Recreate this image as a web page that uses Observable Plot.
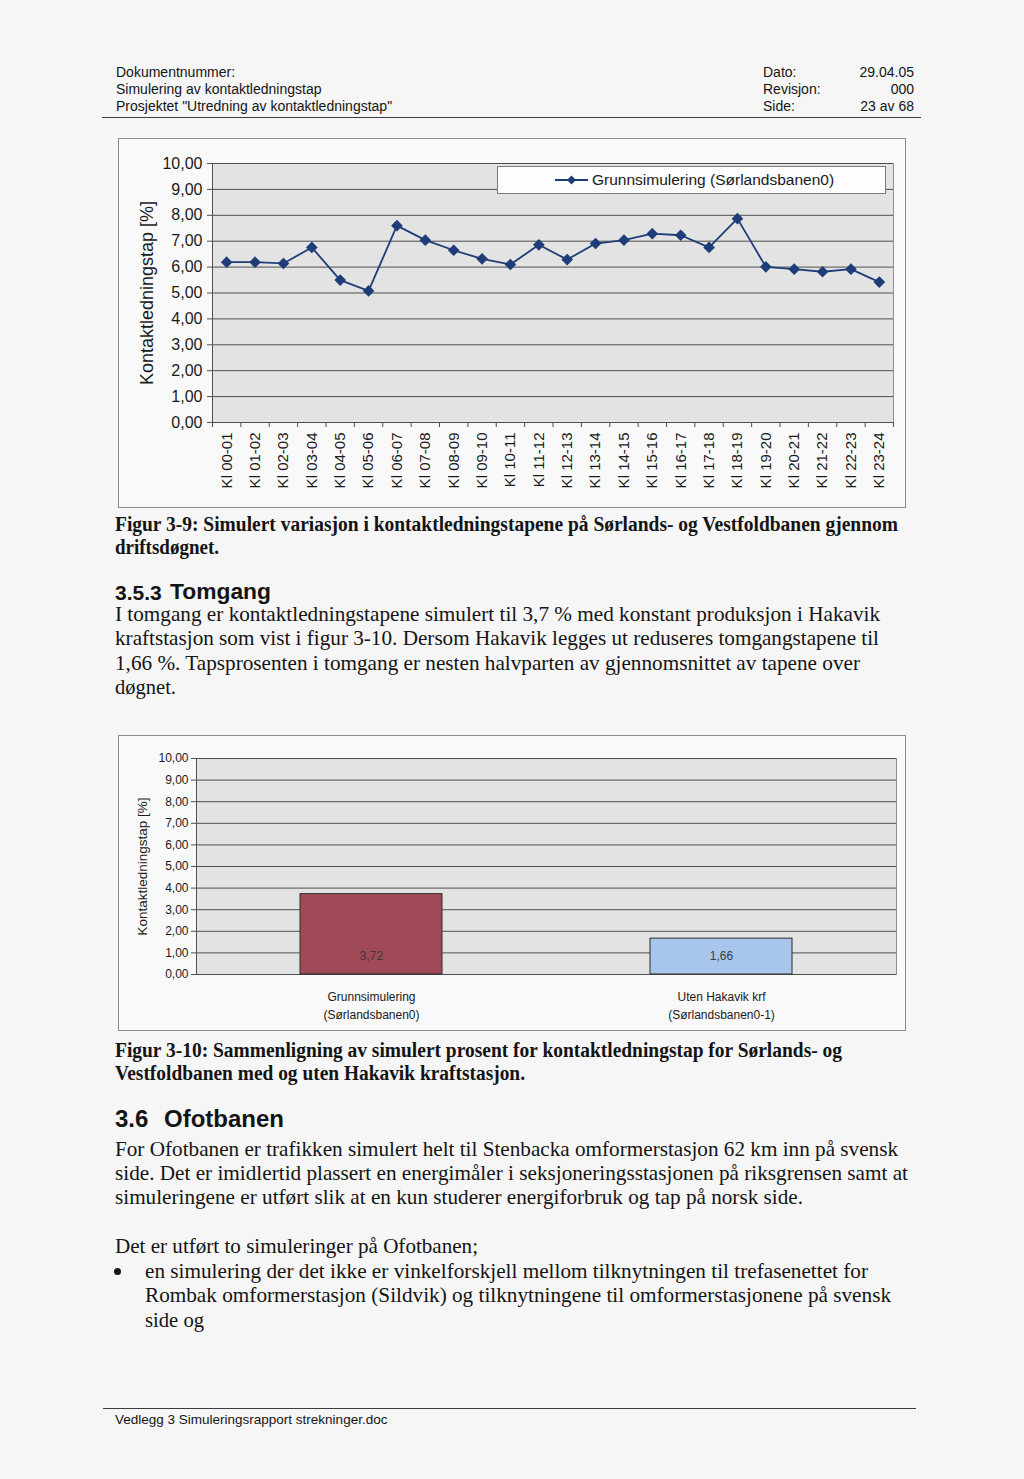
<!DOCTYPE html>
<html lang="no">
<head>
<meta charset="utf-8">
<title>Simulering av kontaktledningstap</title>
<script src="https://cdn.jsdelivr.net/npm/d3@7"></script>
<script src="https://cdn.jsdelivr.net/npm/@observablehq/plot@0.6"></script>
<style>
html, body { margin:0; padding:0; }
body { width:1024px; height:1479px; position:relative; overflow:hidden; background:#f6f6f6; }
.t { position:absolute; white-space:nowrap; line-height:1; transform-origin:0 0; color:#141414; }
.sans { font-family:"Liberation Sans", Arial, sans-serif; }
.serif { font-family:"Liberation Serif", "Times New Roman", serif; }
.rule { position:absolute; height:0; border-top:1.4px solid #3c3c3c; }
.box { position:absolute; outline:1px solid #8c8c8c; outline-offset:-1px; background:#f9f9f9; }
.box svg { position:absolute; left:0; top:0; overflow:visible; }
.legend { position:absolute; box-sizing:border-box; background:#fdfdfd; border:1px solid #7c7c7c;
  font-family:"Liberation Sans", Arial, sans-serif; color:#1a1a1a; }
.legend svg { position:absolute; }
.legend span { position:absolute; white-space:nowrap; line-height:1; }
.bullet { position:absolute; width:7px; height:7px; border-radius:50%; background:#151515; }
</style>
</head>
<body>
<script>
// ---------- chart data ----------
const hourLabels = ["Kl 00-01","Kl 01-02","Kl 02-03","Kl 03-04","Kl 04-05","Kl 05-06","Kl 06-07","Kl 07-08",
  "Kl 08-09","Kl 09-10","Kl 10-11","Kl 11-12","Kl 12-13","Kl 13-14","Kl 14-15","Kl 15-16",
  "Kl 16-17","Kl 17-18","Kl 18-19","Kl 19-20","Kl 20-21","Kl 21-22","Kl 22-23","Kl 23-24"];
const grunnsimulering = [6.19, 6.19, 6.14, 6.76, 5.50, 5.08, 7.60, 7.04, 6.65, 6.32, 6.10, 6.86,
  6.29, 6.91, 7.04, 7.29, 7.23, 6.76, 7.87, 6.01, 5.92, 5.82, 5.92, 5.42];
const seriesName = "Grunnsimulering (Sørlandsbanen0)";
const yTicks = [0, 1, 2, 3, 4, 5, 6, 7, 8, 9, 10];
const yTitle = "Kontaktledningstap [%]";
const scenarioLabels = ["Grunnsimulering\n(Sørlandsbanen0)", "Uten Hakavik krf\n(Sørlandsbanen0-1)"];
const tomgangTap = [3.72, 1.66];

// ---------- page text helper ----------
function addText(t, o) {
  const d = document.createElement("div");
  d.className = "t " + o.f;
  d.textContent = t;
  d.style.fontSize = o.s + "px";
  if (o.w) d.style.fontWeight = o.w;
  const off = o.f === "serif" ? 0.8375 : 0.8465;
  d.style.top = (o.b - off * o.s) + "px";
  d.style.left = "0px";
  document.body.appendChild(d);
  const nat = d.getBoundingClientRect().width;
  if (o.x != null && o.r != null) {
    d.style.left = o.x + "px";
    d.style.transform = `scaleX(${(o.r - o.x) / nat})`;
  } else if (o.x != null) {
    d.style.left = o.x + "px";
  } else {
    d.style.left = (o.r - nat) + "px";
  }
}
function addRule(x1, x2, y) {
  const d = document.createElement("div");
  d.className = "rule";
  d.style.left = x1 + "px"; d.style.width = (x2 - x1) + "px"; d.style.top = y + "px";
  document.body.appendChild(d);
}

// header
const H = {f: "sans", s: 14};
addText("Dokumentnummer:", {...H, x: 116, b: 77});
addText("Simulering av kontaktledningstap", {...H, x: 116, b: 94});
addText("Prosjektet \"Utredning av kontaktledningstap\"", {...H, x: 116, b: 111});
addText("Dato:", {...H, x: 763, b: 77});
addText("Revisjon:", {...H, x: 763, b: 94});
addText("Side:", {...H, x: 763, b: 111});
addText("29.04.05", {...H, r: 914, b: 77});
addText("000", {...H, r: 914, b: 94});
addText("23 av 68", {...H, r: 914, b: 111});
addRule(102, 921, 117);

// caption 1 + section 3.5.3
const C = {f: "serif", s: 20, w: "bold"};
addText("Figur 3-9: Simulert variasjon i kontaktledningstapene på Sørlands- og Vestfoldbanen gjennom", {...C, x: 115, r: 898, b: 531});
addText("driftsdøgnet.", {...C, x: 115, r: 219, b: 554});
addText("3.5.3", {f: "sans", s: 21, w: "bold", x: 115, b: 600});
addText("Tomgang", {f: "sans", s: 22, w: "bold", x: 170, r: 271, b: 600});
const P = {f: "serif", s: 21};
addText("I tomgang er kontaktledningstapene simulert til 3,7 % med konstant produksjon i Hakavik", {...P, x: 115, r: 880, b: 622});
addText("kraftstasjon som vist i figur 3-10. Dersom Hakavik legges ut reduseres tomgangstapene til", {...P, x: 115, r: 879, b: 646});
addText("1,66 %. Tapsprosenten i tomgang er nesten halvparten av gjennomsnittet av tapene over", {...P, x: 115, r: 860, b: 670.5});
addText("døgnet.", {...P, x: 115, r: 176, b: 695});

// caption 2 + section 3.6
addText("Figur 3-10: Sammenligning av simulert prosent for kontaktledningstap for Sørlands- og", {...C, x: 115, r: 842, b: 1057});
addText("Vestfoldbanen med og uten Hakavik kraftstasjon.", {...C, x: 115, r: 525, b: 1080});
addText("3.6", {f: "sans", s: 24, w: "bold", x: 115, b: 1127});
addText("Ofotbanen", {f: "sans", s: 24, w: "bold", x: 164, b: 1127});
addText("For Ofotbanen er trafikken simulert helt til Stenbacka omformerstasjon 62 km inn på svensk", {...P, x: 115, r: 898, b: 1157});
addText("side. Det er imidlertid plassert en energimåler i seksjoneringsstasjonen på riksgrensen samt at", {...P, x: 115, r: 908, b: 1181});
addText("simuleringene er utført slik at en kun studerer energiforbruk og tap på norsk side.", {...P, x: 115, r: 803, b: 1205});
addText("Det er utført to simuleringer på Ofotbanen;", {...P, x: 115, r: 478, b: 1254});
addText("en simulering der det ikke er vinkelforskjell mellom tilknytningen til trefasenettet for", {...P, x: 145, r: 868, b: 1279});
addText("Rombak omformerstasjon (Sildvik) og tilknytningene til omformerstasjonene på svensk", {...P, x: 145, r: 891, b: 1303});
addText("side og", {...P, x: 145, r: 204, b: 1328});
const bl = document.createElement("div");
bl.className = "bullet"; bl.style.left = "114px"; bl.style.top = "1268px";
document.body.appendChild(bl);

// footer
addRule(103, 916, 1408);
addText("Vedlegg 3 Simuleringsrapport strekninger.doc", {f: "sans", s: 13.5, x: 115, b: 1424});

// ---------- charts ----------
const fmt = v => v.toFixed(2).replace(".", ",");
const gridColor = "#4f4f4f";
const plotFill = "#e3e3e3";
const navy = "#1f3d78";
const font = "'Liberation Sans', Arial, sans-serif";

// Chart 1: line chart
const rows1 = hourLabels.map((h, i) => ({hour: h, idx: i, value: grunnsimulering[i]}));
const chart1 = Plot.plot({
  width: 788, height: 370,
  marginTop: 25, marginRight: 13, marginBottom: 86, marginLeft: 94,
  style: {background: "transparent", fontFamily: font, color: "#1a1a1a"},
  x: {type: "linear", domain: [0, hourLabels.length]},
  y: {domain: [0, 10]},
  marks: [
    Plot.frame({fill: plotFill, stroke: "#8f8f8f"}),
    Plot.gridY(yTicks, {stroke: gridColor, strokeOpacity: 1}),
    Plot.axisY(yTicks, {tickFormat: fmt, tickSize: 5, tickPadding: 5, fontSize: 16, label: null, stroke: gridColor}),
    Plot.ruleX([0], {stroke: gridColor}),
    Plot.axisX(d3.range(hourLabels.length + 1), {tickSize: 5, tickFormat: () => "", label: null, stroke: gridColor}),
    Plot.axisX(d3.range(hourLabels.length).map(i => i + 0.5), {tickSize: 0, tickPadding: 10, tickRotate: -90,
      tickFormat: v => hourLabels[Math.floor(v)], fontSize: 15, label: null}),
    Plot.text([yTitle], {frameAnchor: "left", textAnchor: "middle", dx: -65, rotate: -90, fontSize: 18, fill: "#1a1a1a"}),
    Plot.line(rows1, {x: d => d.idx + 0.5, y: "value", stroke: navy, strokeWidth: 1.8}),
    Plot.dot(rows1, {x: d => d.idx + 0.5, y: "value", symbol: "diamond2", r: 4.3, fill: navy, stroke: navy})
  ]
});
const box1 = document.createElement("div");
box1.className = "box";
Object.assign(box1.style, {left: "118px", top: "138px", width: "788px", height: "370px"});
box1.appendChild(chart1);
document.body.appendChild(box1);

// legend for chart 1
const leg = document.createElement("div");
leg.className = "legend";
Object.assign(leg.style, {left: "497px", top: "166px", width: "389px", height: "28px"});
leg.innerHTML = `<svg width="40" height="14" style="left:56px;top:6px">
  <line x1="1" y1="7" x2="34" y2="7" stroke="${navy}" stroke-width="1.8"/>
  <path d="M17.5 2.5 L22 7 L17.5 11.5 L13 7 Z" fill="${navy}"/></svg>
  <span style="left:94px;top:5px;font-size:15.5px">${seriesName}</span>`;
document.body.appendChild(leg);

// Chart 2: bar chart
const rows2 = scenarioLabels.map((s, i) => ({scenario: s, value: tomgangTap[i]}));
const chart2 = Plot.plot({
  width: 788, height: 296,
  marginTop: 23, marginRight: 10, marginBottom: 57, marginLeft: 78,
  style: {background: "transparent", fontFamily: font, color: "#1a1a1a"},
  x: {domain: scenarioLabels, paddingInner: 0.594, paddingOuter: 0.297},
  y: {domain: [0, 10]},
  color: {domain: scenarioLabels, range: ["#a04a58", "#a8c6ec"]},
  marks: [
    Plot.frame({fill: plotFill, stroke: "#8f8f8f"}),
    Plot.gridY(yTicks, {stroke: gridColor, strokeOpacity: 1}),
    Plot.frame({anchor: "left", stroke: gridColor}),
    Plot.axisY(yTicks, {tickFormat: fmt, tickSize: 5, tickPadding: 3, fontSize: 12, label: null, stroke: gridColor}),
    Plot.axisX({tickSize: 0, tickPadding: 13, fontSize: 12, lineHeight: 1.55, label: null}),
    Plot.text([yTitle], {frameAnchor: "left", textAnchor: "middle", dx: -54, rotate: -90, fontSize: 13.5, fill: "#1a1a1a"}),
    Plot.barY(rows2, {x: "scenario", y: "value", fill: "scenario", stroke: "#2b2b2b", strokeWidth: 1}),
    Plot.text(rows2, {x: "scenario", frameAnchor: "bottom", dy: -15, text: d => fmt(d.value), fontSize: 12, fill: "#3a3a3a"})
  ]
});
const box2 = document.createElement("div");
box2.className = "box";
Object.assign(box2.style, {left: "118px", top: "735px", width: "788px", height: "296px"});
box2.appendChild(chart2);
document.body.appendChild(box2);
</script>
</body>
</html>
